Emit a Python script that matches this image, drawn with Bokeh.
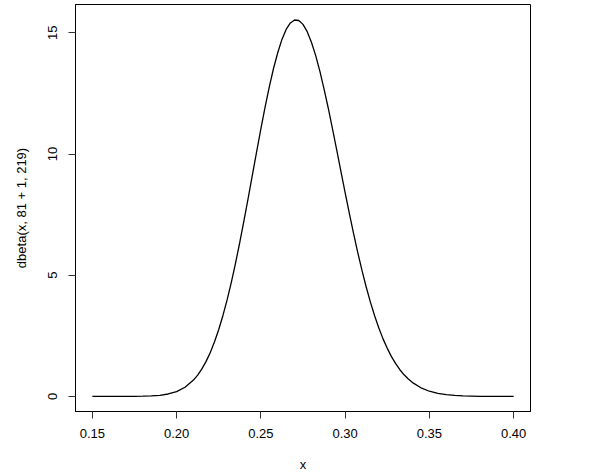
from bokeh.plotting import figure
from bokeh.models import Range1d, FixedTicker, PrintfTickFormatter
from bokeh.embed import file_html
from bokeh.resources import INLINE

x_values = [0.15, 0.16, 0.17, 0.175, 0.18, 0.185, 0.19, 0.195, 0.20, 0.205,
            0.21, 0.2125, 0.215, 0.2175, 0.22, 0.2225, 0.225, 0.2275, 0.23, 0.2325,
            0.235, 0.2375, 0.24, 0.2425, 0.245, 0.2475, 0.25, 0.2525, 0.255, 0.2575,
            0.26, 0.2625, 0.265, 0.2675, 0.27, 0.2725, 0.275, 0.2775, 0.28, 0.2825,
            0.285, 0.2875, 0.29, 0.2925, 0.295, 0.2975, 0.30, 0.3025, 0.305, 0.3075,
            0.31, 0.3125, 0.315, 0.3175, 0.32, 0.3225, 0.325, 0.3275, 0.33, 0.3325,
            0.335, 0.3375, 0.34, 0.345, 0.35, 0.355, 0.36, 0.365, 0.37, 0.38,
            0.39, 0.40]
density = [0.0000, 0.0001, 0.0012, 0.0033, 0.0086, 0.0209, 0.0473, 0.1006, 0.201, 0.379,
           0.674, 0.881, 1.136, 1.446, 1.816, 2.254, 2.760, 3.341, 3.993, 4.719,
           5.511, 6.361, 7.260, 8.194, 9.148, 10.10, 11.04, 11.94, 12.77, 13.53,
           14.18, 14.73, 15.14, 15.41, 15.53, 15.51, 15.35, 15.05, 14.61, 14.07,
           13.42, 12.68, 11.89, 11.04, 10.17, 9.286, 8.408, 7.549, 6.723, 5.935,
           5.199, 4.516, 3.892, 3.327, 2.822, 2.374, 1.983, 1.642, 1.350, 1.101,
           0.892, 0.716, 0.571, 0.355, 0.214, 0.126, 0.0715, 0.0395, 0.0213, 0.0056,
           0.0013, 0.0003]
x_ticks = [0.15, 0.20, 0.25, 0.30, 0.35, 0.40]
y_ticks = [0, 5, 10, 15]
x_label = "x"
y_label = "dbeta(x, 81 + 1, 219)"

FONT = "Liberation Sans"

p = figure(width=580, height=474, output_backend="svg", toolbar_location=None,
           x_range=Range1d(0.14, 0.41), y_range=Range1d(-0.622, 16.17),
           min_border_left=75, min_border_right=50, min_border_top=4,
           min_border_bottom=62)
p.background_fill_color = "white"
p.border_fill_color = "white"
p.outline_line_color = "black"
p.outline_line_width = 1
p.xgrid.visible = False
p.ygrid.visible = False

p.line(x_values, density, line_color="black", line_width=1.3)

for ax in (p.xaxis[0], p.yaxis[0]):
    ax.axis_line_color = "black"
    ax.major_tick_line_color = "#333333"
    ax.major_tick_out = 7
    ax.major_tick_in = 0
    ax.minor_tick_line_color = None
    ax.major_label_text_font = FONT
    ax.major_label_text_font_size = "13px"
    ax.major_label_text_color = "black"
    ax.axis_label_text_font = FONT
    ax.axis_label_text_font_size = "13px"
    ax.axis_label_text_font_style = "normal"
    ax.axis_label_text_color = "black"

p.xaxis[0].ticker = FixedTicker(ticks=x_ticks)
p.xaxis[0].formatter = PrintfTickFormatter(format="%.2f")
p.xaxis[0].major_label_standoff = 10
p.xaxis[0].axis_label = x_label
p.xaxis[0].axis_label_standoff = 16

p.yaxis[0].ticker = FixedTicker(ticks=y_ticks)
p.yaxis[0].formatter = PrintfTickFormatter(format="%d")
p.yaxis[0].major_label_orientation = "vertical"
p.yaxis[0].major_label_standoff = 11
p.yaxis[0].axis_label = y_label
p.yaxis[0].axis_label_standoff = 17

open("out.html", "w").write(file_html(p, INLINE))
